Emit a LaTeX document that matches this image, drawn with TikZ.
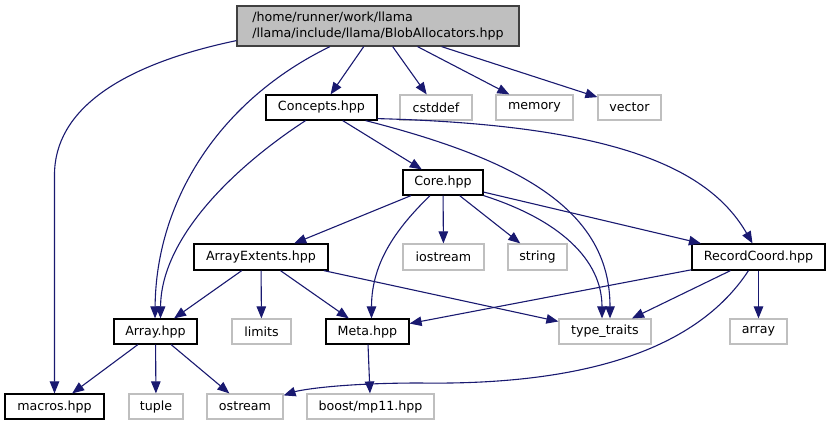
\documentclass[tikz,border=0pt]{standalone}
\usepackage{fontspec}
\setmainfont{DejaVu Sans}
\usetikzlibrary{arrows.meta}
\definecolor{edgeblue}{HTML}{191970}
\definecolor{gbord}{HTML}{BFBFBF}
\definecolor{topfill}{HTML}{BFBFBF}
\definecolor{topbord}{HTML}{404040}
\begin{document}
\begin{tikzpicture}[x=1bp,y=-1bp,
  box/.style={draw=black,line width=1.2bp,minimum height=25bp,inner sep=0pt,font=\fontsize{12.7}{16}\selectfont},
  sys/.style={box,draw=gbord},
  dep/.style={draw=edgeblue,line width=1.1bp,-{Triangle[length=12bp,width=9.5bp]}}]
\useasboundingbox (0,0) rectangle (831,425);
% nodes
\node[box,fill=topfill,draw=topbord,minimum width=282bp,minimum height=40bp,align=left] (top) at (378,26) {/home/runner/work/llama\\/llama/include/llama/BlobAllocators.hpp};
\node[box,minimum width=111bp] (concepts) at (321.5,107.5) {Concepts.hpp};
\node[sys,minimum width=72bp] (cstddef) at (436,107.5) {cstddef};
\node[sys,minimum width=77bp] (memory) at (534.5,107.5) {memory};
\node[sys,minimum width=63bp] (vector) at (629.5,107.5) {vector};
\node[box,minimum width=80bp] (core) at (443,182.5) {Core.hpp};
\node[box,minimum width=134bp,minimum height=26bp] (extents) at (261,257) {ArrayExtents.hpp};
\node[sys,minimum width=81bp,minimum height=26bp] (iostream) at (443.5,257) {iostream};
\node[sys,minimum width=59bp,minimum height=26bp] (string) at (537.5,257) {string};
\node[box,minimum width=133bp,minimum height=26bp] (rc) at (758.5,257) {RecordCoord.hpp};
\node[box,minimum width=83bp] (arr) at (155.5,331.5) {Array.hpp};
\node[sys,minimum width=59bp] (limits) at (261.5,331.5) {limits};
\node[box,minimum width=83bp] (meta) at (367.5,331.5) {Meta.hpp};
\node[sys,minimum width=92bp] (tt) at (605,331.5) {type\_traits};
\node[sys,minimum width=57bp] (array) at (758.5,331.5) {array};
\node[box,minimum width=99bp] (macros) at (54.5,406.5) {macros.hpp};
\node[sys,minimum width=54bp] (tuple) at (156,406.5) {tuple};
\node[sys,minimum width=76bp] (ostream) at (245,406.5) {ostream};
\node[sys,minimum width=127bp] (boost) at (370.5,406.5) {boost/mp11.hpp};
% straight edges
\draw[dep] (top) -- (concepts);
\draw[dep] (top) -- (cstddef);
\draw[dep] (top) -- (memory);
\draw[dep] (top) -- (vector);
\draw[dep] (concepts) -- (core);
\draw[dep] (core) -- (extents);
\draw[dep] (core) -- (iostream);
\draw[dep] (core) -- (string);
\draw[dep] (core) -- (rc);
\draw[dep] (extents) -- (arr);
\draw[dep] (extents) -- (limits);
\draw[dep] (extents) -- (meta);
\draw[dep] (extents) -- (tt);
\draw[dep] (rc) -- (meta);
\draw[dep] (rc) -- (tt);
\draw[dep] (rc) -- (array);
\draw[dep] (arr) -- (macros);
\draw[dep] (arr) -- (tuple);
\draw[dep] (arr) -- (ostream);
\draw[dep] (meta) -- (boost);
% curved edges
\draw[dep] ([yshift=6bp]top.south west) .. controls (120,65) and (54.5,110) .. (54.5,175) -- (macros.north);
\draw[dep] ([xshift=-48bp]top.south) .. controls (220,100) and (156,200) .. ([xshift=-0.5bp]arr.north);
\draw[dep] ([xshift=-16bp]concepts.south) .. controls (230,170) and (161,240) .. ([xshift=5bp]arr.north);
\draw[dep] ([xshift=-12bp]concepts.south east) .. controls (520,160) and (610,210) .. ([xshift=5bp]tt.north);
\draw[dep] ([yshift=2bp]concepts.south east) .. controls (620,125) and (710,170) .. ([xshift=-6bp]rc.north);
\draw[dep] ([xshift=-13bp]core.south) .. controls (400,225) and (371.5,260) .. ([xshift=4bp]meta.north);
\draw[dep] (core.south east) .. controls (560,220) and (602,260) .. ([xshift=-3bp]tt.north);
\draw[dep] ([xshift=-10bp]rc.south) .. controls (690,360) and (560,385) .. (420,383) .. controls (340,383) and (300,390) .. ([yshift=-2bp]ostream.north east);
\end{tikzpicture}
\end{document}
